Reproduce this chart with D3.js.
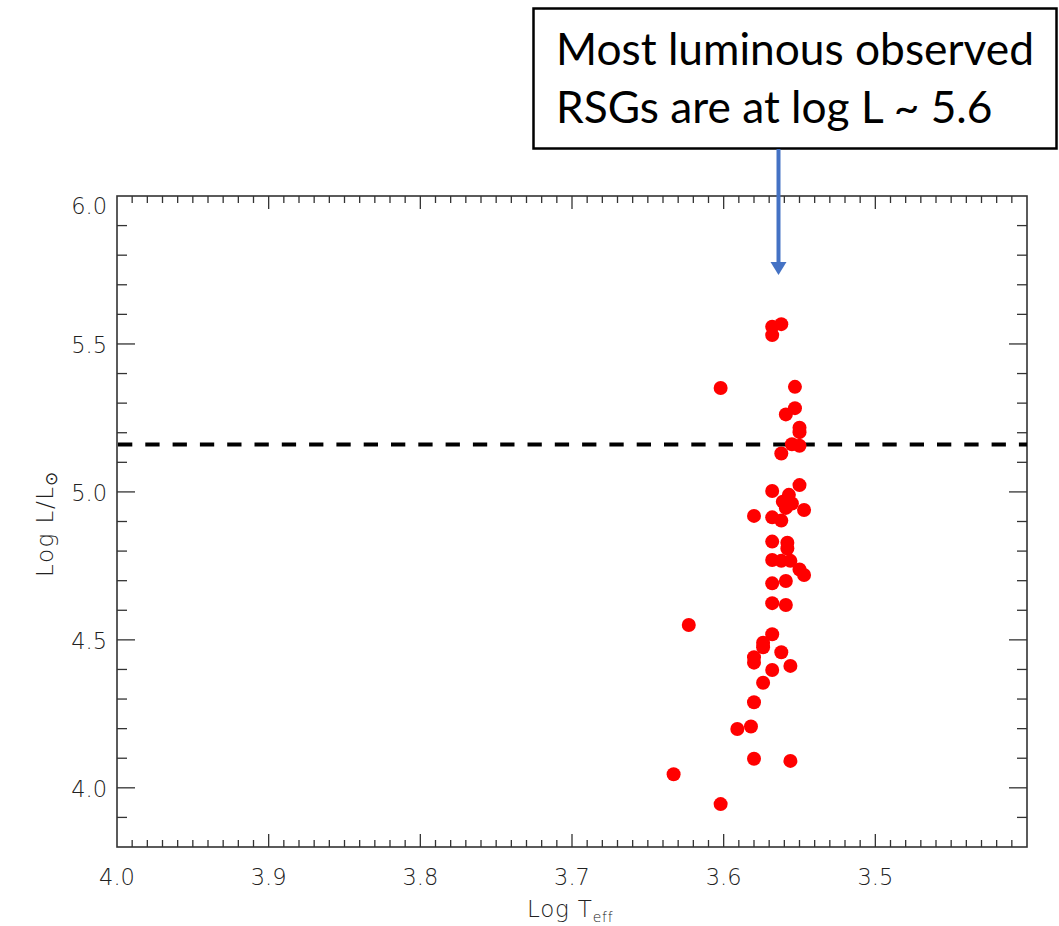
<!DOCTYPE html>
<html>
<head>
<meta charset="utf-8">
<script src="https://cdn.jsdelivr.net/npm/d3@7"></script>
<style>
  html, body { margin: 0; padding: 0; background: #fff; }
  svg { display: block; }
</style>
</head>
<body>
<svg id="chart" width="1059" height="926"></svg>
<script>
// ---- data ----
const logTeff = [3.562,3.568,3.568,3.602,3.553,3.553,3.559,3.550,3.550,3.555,3.550,3.562,
  3.568,3.550,3.557,3.561,3.555,3.559,3.547,3.580,3.568,3.562,3.568,3.558,3.558,
  3.568,3.562,3.556,3.550,3.547,3.568,3.559,3.568,3.559,3.623,3.568,3.574,3.574,
  3.562,3.580,3.580,3.568,3.556,3.574,3.580,3.591,3.582,3.580,3.556,3.633,3.602];
const logL = [5.567,5.558,5.530,5.351,5.355,5.283,5.262,5.217,5.202,5.161,5.156,5.130,
  5.003,5.023,4.990,4.967,4.961,4.946,4.939,4.919,4.914,4.903,4.832,4.828,4.809,
  4.770,4.767,4.767,4.738,4.719,4.691,4.699,4.624,4.618,4.550,4.519,4.490,4.475,
  4.458,4.441,4.423,4.398,4.412,4.355,4.289,4.199,4.207,4.098,4.091,4.046,3.945];
const xTickLabels = [4.0, 3.9, 3.8, 3.7, 3.6, 3.5];
const yTickLabels = [4.0, 4.5, 5.0, 5.5, 6.0];
const thresholdL = [5.16];
const annotationLines = ["Most luminous observed", "RSGs are at log L ~ 5.6"];

(function() {
// ---- layout ----
const svg = d3.select("#chart");
const pL = 117, pR = 1027, pT = 196, pB = 847;
const x = d3.scaleLinear().domain([4.0, 3.4]).range([pL, pR]);
const y = d3.scaleLinear().domain([3.8, 6.0]).range([pB, pT]);
const axisColor = "#333";
const tickFont = "'DejaVu Sans', sans-serif";
const tickW = 200;

const xMinor = d3.range(0, 61).map(i => +(4.0 - i * 0.01).toFixed(2));
const yMinor = d3.range(0, 23).map(i => +(3.8 + i * 0.1).toFixed(1));
const isXMajor = v => Math.abs(v * 10 - Math.round(v * 10)) < 1e-6;
const isYMajor = v => Math.abs(v * 2 - Math.round(v * 2)) < 1e-6;

const g = svg.append("g");

function tickLines(sel, data, fn) {
  sel.selectAll(null).data(data).enter().append("line")
    .each(function(d) { const c = fn(d); d3.select(this).attr("x1", c[0]).attr("y1", c[1]).attr("x2", c[2]).attr("y2", c[3]); })
    .attr("stroke", axisColor).attr("stroke-width", 1.3);
}
const xt = xMinor.filter(v => v > 3.4 && v < 4.0);
tickLines(g, xt, v => { const L = isXMajor(v) ? 13 : 7; return [x(v), pB, x(v), pB - L]; });
tickLines(g, xt, v => { const L = isXMajor(v) ? 13 : 7; return [x(v), pT, x(v), pT + L]; });
const yt = yMinor.filter(v => v > 3.8 && v < 6.0);
tickLines(g, yt, v => { const L = isYMajor(v) ? 18 : 10; return [pL, y(v), pL + L, y(v)]; });
tickLines(g, yt, v => { const L = isYMajor(v) ? 18 : 10; return [pR, y(v), pR - L, y(v)]; });

g.append("rect").attr("x", pL).attr("y", pT).attr("width", pR - pL).attr("height", pB - pT)
  .attr("fill", "none").attr("stroke", axisColor).attr("stroke-width", 1.6);

g.selectAll(".xl").data(xTickLabels).enter().append("text")
  .attr("x", d => x(d)).attr("y", 885).attr("text-anchor", "middle")
  .attr("font-family", tickFont).attr("font-weight", tickW).attr("font-size", 22.5).attr("fill", "#222")
  .text(d => d.toFixed(1));
g.selectAll(".yl").data(yTickLabels).enter().append("text")
  .attr("x", 107).attr("y", d => Math.max(y(d) + 9, pT + 18)).attr("text-anchor", "end")
  .attr("font-family", tickFont).attr("font-weight", tickW).attr("font-size", 22.5).attr("fill", "#222")
  .text(d => d.toFixed(1));

const xt1 = g.append("text").attr("x", 527).attr("y", 917).attr("text-anchor", "start")
  .attr("font-family", tickFont).attr("font-weight", tickW).attr("font-size", 23).attr("fill", "#222")
  .attr("letter-spacing", 0.8);
xt1.append("tspan").text("Log T");
xt1.append("tspan").attr("font-size", 14).attr("dy", 5).text("eff");

const yt1 = g.append("text").attr("transform", "translate(53,577) rotate(-90)").attr("text-anchor", "start")
  .attr("font-family", tickFont).attr("font-weight", tickW).attr("font-size", 23).attr("fill", "#222")
  .attr("letter-spacing", 1.5);
yt1.append("tspan").text("Log L/L");
yt1.append("tspan").attr("font-size", 17).attr("dy", 4).text("\u2299");

g.selectAll(".thr").data(thresholdL).enter().append("line")
  .attr("x1", pL + 1).attr("x2", pR).attr("y1", d => y(d)).attr("y2", d => y(d))
  .attr("stroke", "#000").attr("stroke-width", 4).attr("stroke-dasharray", "14.3,13");

g.selectAll(".pt").data(logTeff).enter().append("circle")
  .attr("cx", d => x(d)).attr("cy", (d, i) => y(logL[i])).attr("r", 7).attr("fill", "#ff0000");

const box = svg.append("g");
box.append("rect").attr("x", 533.5).attr("y", 8.5).attr("width", 523).attr("height", 140)
  .attr("fill", "#fff").attr("stroke", "#000").attr("stroke-width", 2.5);
const boxFont = "Lato, 'Open Sans', sans-serif";
const t1 = box.append("text").attr("x", 556).attr("y", 65).attr("font-family", boxFont)
  .attr("font-size", 46).attr("fill", "#000").text(annotationLines[0]);
const w = t1.node().getComputedTextLength();
const fs = 46 * 478 / w;
t1.attr("font-size", fs);
box.append("text").attr("x", 556).attr("y", 123).attr("font-family", boxFont)
  .attr("font-size", fs).attr("fill", "#000").text(annotationLines[1]);

const arrowX = 778.5;
box.append("line").attr("x1", arrowX).attr("x2", arrowX).attr("y1", 149).attr("y2", 264)
  .attr("stroke", "#4472C4").attr("stroke-width", 4);
box.append("path").attr("d", `M${arrowX - 8},262 L${arrowX + 8},262 L${arrowX},275 Z`).attr("fill", "#4472C4");
})();
</script>
</body>
</html>
